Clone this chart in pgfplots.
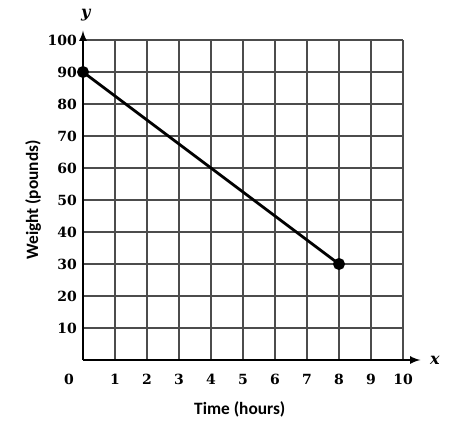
\documentclass[border=0pt]{standalone}
\usepackage{fontspec}
\setmainfont{DejaVu Serif}
\newfontfamily\labelfont{Carlito}
\usepackage{pgfplots}
\pgfplotsset{compat=1.18}
\begin{document}
\begin{tikzpicture}
\begin{axis}[
  scale only axis,
  width=240pt, height=240pt,
  xmin=0, xmax=10, ymin=0, ymax=100,
  axis lines=left,
  axis line style={line width=1.6pt, black},
  x axis line style={-latex, shorten >=-13pt},
  y axis line style={-latex, shorten >=-7pt},
  xtick={1,...,10},
  ytick={10,20,...,100},
  extra x ticks={0},
  extra x tick style={grid=none, xticklabel style={xshift=-10.5pt}},
  grid=major,
  major grid style={line width=1.2pt, color=black!70},
  major tick length=0pt,
  tick style={draw=none},
  /pgf/number format/assume math mode=true,
  ticklabel style={font=\fontsize{10.5}{12}\selectfont\bfseries},
  xticklabel style={anchor=north, yshift=-7pt},
  yticklabel style={anchor=east, xshift=-1pt},
  xlabel={Time (hours)},
  ylabel={Weight (pounds)},
  label style={font=\labelfont\fontsize{13}{15}\selectfont\bfseries},
  xlabel style={at={(axis description cs:0.49,-0.153)}, anchor=center},
  ylabel style={at={(axis description cs:-0.156,0.5)}, anchor=center},
  clip=false,
]
\addplot[line width=2.1pt, black, mark=*, mark size=3.4pt, mark options={fill=black}] coordinates {(0,90) (8,30)};
\node[font=\fontsize{12}{14}\selectfont\bfseries\itshape] at (axis cs:10,0) [xshift=24pt] {x};
\node[font=\fontsize{12}{14}\selectfont\bfseries\itshape] at (axis cs:0,100) [yshift=19pt, xshift=2pt] {y};
\end{axis}
\pgfresetboundingbox
\path ([shift={(-62.25pt,-49.5pt)}]current axis.south west) rectangle ([shift={(40.5pt,30pt)}]current axis.north east);
\end{tikzpicture}
\end{document}
